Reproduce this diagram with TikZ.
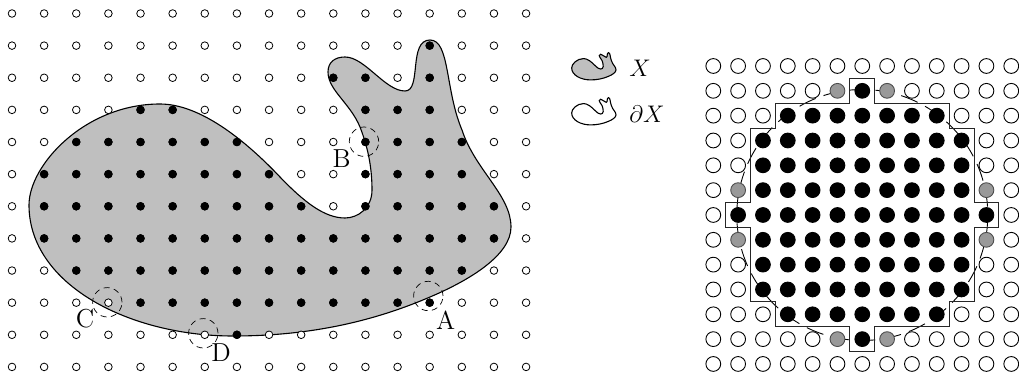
\documentclass[tikz,border=0pt]{standalone}
\usepackage{amsmath,amssymb}
\usepackage{tikz}
\usetikzlibrary{positioning}
\newcommand{\blobpath}{(29,205) .. controls (29,165) and (85,104) .. (160,104) .. controls (200,104) and (245,140) .. (280,177) .. controls (305,203) and (325,218) .. (345,218) .. controls (358,218) and (372,208) .. (372,190) .. controls (372,165) and (367,145) .. (360,127) .. controls (350,103) and (328,90) .. (328,72) .. controls (328,62) and (335,57) .. (345,57) .. controls (365,57) and (385,91) .. (405,91) .. controls (422,91) and (408,40) .. (430,40) .. controls (450,40) and (445,90) .. (462,130) .. controls (475,170) and (511,195) .. (511,227) .. controls (511,255) and (470,280) .. (430,297) .. controls (365,325) and (300,336) .. (233,336) .. controls (130,336) and (29,285) .. (29,205) -- cycle}
\begin{document}
\begin{tikzpicture}[x=0.5pt,y=-0.5pt]
\tikzstyle{outline}=[draw=black,line width=0.55pt]
\tikzstyle{smallopen}=[draw=black,fill=white,circle,inner sep=0pt,line width=0.4pt,minimum size=3.8pt]
\tikzstyle{smallfull}=[fill=black,circle,inner sep=0pt,minimum size=4.2pt]
\tikzstyle{bigopen}=[draw=black,fill=white,circle,inner sep=0pt,line width=0.45pt,minimum size=7.4pt]
\tikzstyle{bigfull}=[draw=black,fill=black,circle,inner sep=0pt,line width=0.45pt,minimum size=7.4pt]
\tikzstyle{biggray}=[draw=black!70,fill=black!40,circle,inner sep=0pt,line width=0.45pt,minimum size=7.4pt]
\tikzstyle{ring}=[draw=black,circle,inner sep=0pt,line width=0.35pt,dash pattern=on 3pt off 2.2pt,minimum size=14.7pt]
\tikzstyle{tag}=[inner sep=0pt,font=\fontsize{13}{15}\selectfont]
\useasboundingbox (0,0) rectangle (1019,379);
% left picture
\draw[outline,fill=black!25] \blobpath;
\begin{scope}[shift={(12,13.5)},x=16.065pt,y=-16.065pt]
\foreach \r in {0,...,11}
  \foreach \c in {0,...,16}
    \node[smallopen] (o-\c-\r) at (\c,\r) {};
\foreach \r/\cols in {1/{13},2/{10,11,13},3/{4,5,11,12,13},4/{2,3,4,5,6,7,11,12,13,14},
  5/{1,2,3,4,5,6,7,8,11,12,13,14},6/{1,2,3,4,5,6,7,8,9,11,12,13,14,15},
  7/{1,2,3,4,5,6,7,8,9,10,11,12,13,14,15},8/{2,3,4,5,6,7,8,9,10,11,12,13,14},
  9/{4,5,6,7,8,9,10,11,12,13},10/{7}}
  \foreach \c in \cols
    \node[smallfull] (f-\c-\r) at (\c,\r) {};
\end{scope}
\node[ring] (ringA) at (428.3,296) {};
\node[ring] (ringB) at (364,141.7) {};
\node[ring] (ringC) at (107.3,302.3) {};
\node[ring] (ringD) at (203.3,333.3) {};
\node[tag] (labA) at (445.7,320) {A};
\node[tag] (labB) at (341.7,159) {B};
\node[tag] (labC) at (85,319) {C};
\node[tag] (labD) at (221,352.7) {D};
% legend
\begin{scope}[shift={(569,49)},scale=0.092]
\draw[outline,fill=black!25] \blobpath;
\end{scope}
\begin{scope}[shift={(569,94)},scale=0.092]
\draw[outline] \blobpath;
\end{scope}
\node[tag,anchor=west] (legX) at (629,68) {$X$};
\node[tag,anchor=west] (legdX) at (629,114) {$\partial X$};
% right picture
\node[circle,draw=black,inner sep=0pt,line width=0.45pt,dash pattern=on 8.9pt off 4.24pt,dash phase=8.9pt,minimum size=125.5pt] (rim) at (862.3,215) {};
\begin{scope}[shift={(713.3,66)},x=12.415pt,y=-12.415pt]
\foreach \r in {0,...,12}
  \foreach \c in {0,...,12} {
    \pgfmathtruncatemacro{\dist}{(\c-6)*(\c-6)+(\r-6)*(\r-6)}
    \ifnum\dist<26
      \node[bigfull] (n-\c-\r) at (\c,\r) {};
    \else\ifnum\dist=26
      \node[biggray] (n-\c-\r) at (\c,\r) {};
    \else
      \node[bigopen] (n-\c-\r) at (\c,\r) {};
    \fi\fi
  }
\draw[line width=0.5pt,black!85] (5.5,0.5) -- (6.5,0.5) -- (6.5,1.5) -- (9.5,1.5) -- (9.5,2.5) -- (10.5,2.5) -- (10.5,5.5) -- (11.5,5.5) -- (11.5,6.5) -- (10.5,6.5) -- (10.5,9.5) -- (9.5,9.5) -- (9.5,10.5) -- (6.5,10.5) -- (6.5,11.5) -- (5.5,11.5) -- (5.5,10.5) -- (2.5,10.5) -- (2.5,9.5) -- (1.5,9.5) -- (1.5,6.5) -- (0.5,6.5) -- (0.5,5.5) -- (1.5,5.5) -- (1.5,2.5) -- (2.5,2.5) -- (2.5,1.5) -- (5.5,1.5) -- cycle;
\end{scope}
\end{tikzpicture}
\end{document}
